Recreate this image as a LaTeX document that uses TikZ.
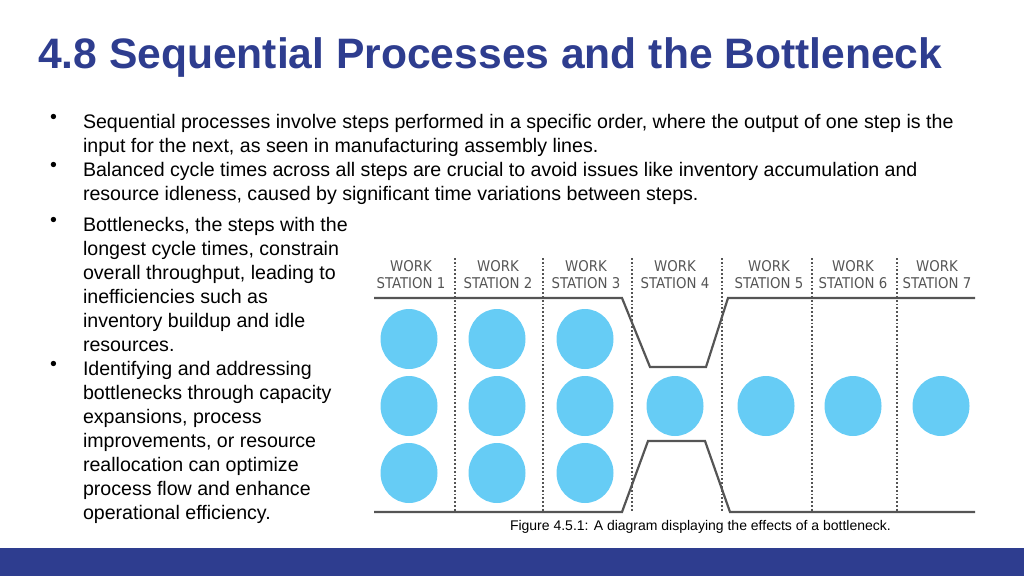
\documentclass[tikz,border=0pt]{standalone}
\usepackage{fontspec}
\usetikzlibrary{shapes.geometric}
\setmainfont{Liberation Sans}
\newfontfamily\labelfont{DejaVu Sans Condensed}
\definecolor{titleblue}{HTML}{2E3D8F}
\definecolor{ballblue}{HTML}{66CCF5}
\definecolor{linegray}{HTML}{555555}
\begin{document}
\begin{tikzpicture}[x=1pt,y=-1pt,
    every node/.style={inner sep=0pt,outer sep=0pt},
    bodytext/.style={anchor=north west,align=left,font=\fontsize{19.6}{24}\selectfont},
    bulletmark/.style={anchor=north west,font=\fontsize{19.6}{24}\selectfont},
    ball/.style={ellipse,fill=ballblue,minimum width=57pt,minimum height=60pt},
    wall/.style={line width=2.2pt,draw=linegray},
    divider/.style={line width=1.8pt,draw=linegray,dotted},
    stationlabel/.style={align=center,text=linegray,font=\labelfont\fontsize{14.8}{17}\selectfont}]
\useasboundingbox (0,0) rectangle (1024,576);
\fill[titleblue] (0,548) rectangle (1024,576);
\node[anchor=west,text=titleblue,font=\fontsize{42.6}{48}\selectfont\bfseries] (title) at (38,57) {4.8 Sequential Processes and the Bottleneck};
% bullets
\node[bulletmark] (b1) at (50,114) {\textbullet};
\node[bodytext] (t1) at (83,114) {Sequential processes involve steps performed in a specific order, where the output of one step is the\\input for the next, as seen in manufacturing assembly lines.};
\node[bulletmark] (b2) at (50,162) {\textbullet};
\node[bodytext] (t2) at (83,162) {Balanced cycle times across all steps are crucial to avoid issues like inventory accumulation and\\resource idleness, caused by significant time variations between steps.};
\node[bulletmark] (b3) at (50,217) {\textbullet};
\node[bodytext] (t3) at (83,217) {Bottlenecks, the steps with the\\longest cycle times, constrain\\overall throughput, leading to\\inefficiencies such as\\inventory buildup and idle\\resources.};
\node[bulletmark] (b4) at (50,361) {\textbullet};
\node[bodytext] (t4) at (83,361) {Identifying and addressing\\bottlenecks through capacity\\expansions, process\\improvements, or resource\\reallocation can optimize\\process flow and enhance\\operational efficiency.};
% stations
\foreach \i/\x in {1/411,2/498,3/586,4/675,5/769,6/853,7/937}
    \node[stationlabel] (s\i) at (\x,275) {WORK\\STATION \i};
\foreach \x in {455,543,632,722,812,897}
    \draw[divider] (\x,258) -- (\x,512);
% balls
\foreach \c/\x in {1/409,2/497,3/585}
    \foreach \r/\y in {1/339,2/406,3/473}
        \node[ball] (ball\c\r) at (\x,\y) {};
\foreach \c/\x in {4/675,5/766,6/853,7/941}
    \node[ball] (ball\c2) at (\x,406) {};
% walls
\draw[wall] (374,298) -- (622,298) -- (650,367) -- (706,367) -- (728,298) -- (975,298);
\draw[wall] (374,512) -- (622,512) -- (648,441) -- (705,441) -- (730,512) -- (975,512);
\node[anchor=west,font=\fontsize{14}{16}\selectfont] (caption) at (510,527) {Figure 4.5.1: A diagram displaying the effects of a bottleneck.};
\end{tikzpicture}
\end{document}
